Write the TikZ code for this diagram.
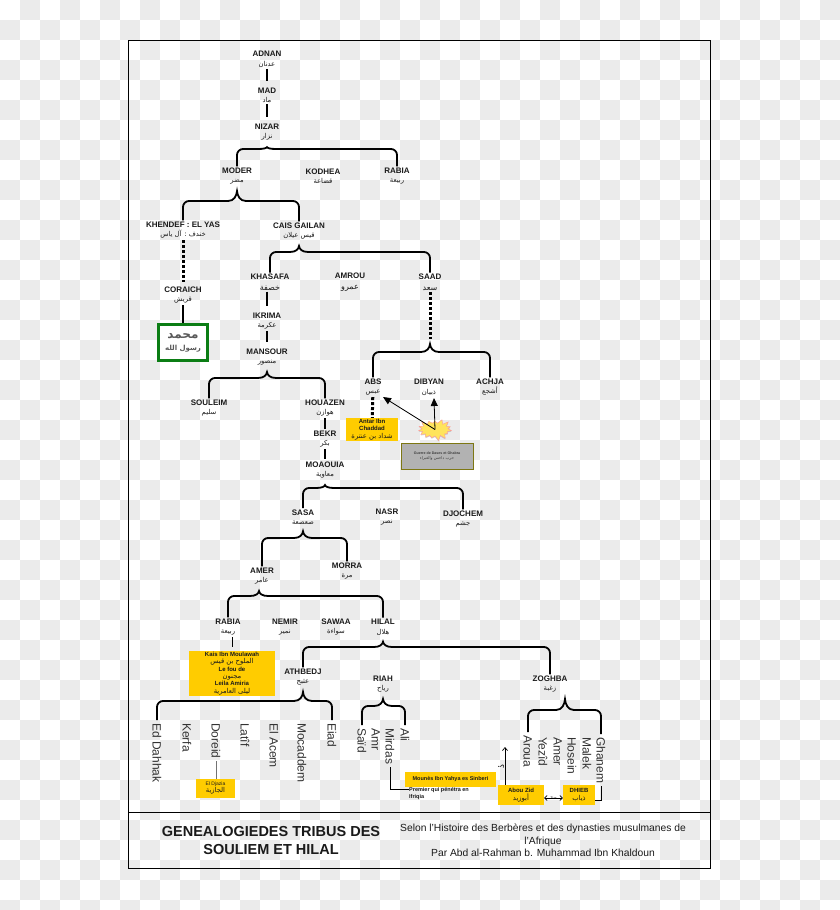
\documentclass[tikz,border=0pt]{standalone}
\usepackage{fontspec}
\setmainfont{Liberation Sans}
\newfontfamily\arabicfont[Script=Arabic]{DejaVu Sans}
\TeXXeTstate=1
\usepackage{tikz}
\usetikzlibrary{calc, positioning, arrows.meta, shapes.symbols, shadows}
\definecolor{checker}{HTML}{EBEBEB}
\definecolor{gold}{HTML}{FFCC00}
\definecolor{ink}{HTML}{1A1A1A}
\definecolor{seal}{HTML}{0B7D14}
\definecolor{blast}{HTML}{FFE45C}
\newcommand{\arab}[1]{{\fontsize{6.8}{7}\arabicfont\mdseries\beginR #1\endR}}
\newcommand{\arabl}[1]{{\fontsize{8}{9}\arabicfont\mdseries\beginR #1\endR}}
\newcommand{\arabs}[1]{{\fontsize{4}{5}\arabicfont\mdseries\beginR #1\endR}}
\newcommand{\fork}[5][0]{% tip shift, parent anchor, left anchor, right anchor, level
    \coordinate (tip) at ($(#2)+(#1,5)$);
    \coordinate (lev) at (tip |- 0,#5);
    \draw[forkline, rounded corners=6pt] (#3) |- ($(lev)+(-9,0)$);
    \draw[forkline, rounded corners=6pt] (#4) |- ($(lev)+(9,0)$);
    \draw[forkline] ($(lev)+(-9,0)$)
        .. controls ($(lev)+(-3,0)$) and ($(lev)!0.5!(tip)+(-0.4,0)$) .. (tip)
        .. controls ($(lev)!0.5!(tip)+(0.4,0)$) and ($(lev)+(3,0)$) .. ($(lev)+(9,0)$);
}
\tikzset{
    tribe/.style = {align=center, inner sep=0pt, outer sep=1.5pt, yshift=-1.2pt, text=ink, font=\fontsize{8}{9.5}\selectfont\bfseries}, % the two line names
    son/.style = {rotate=-90, anchor=west, inner sep=0pt, outer sep=3pt, text=black!80, text height=8.6pt, text depth=0pt, font=\fontsize{12}{14}\selectfont},
    goldbox/.style = {fill=gold, align=center, inner sep=0pt, text=ink, font=\fontsize{6}{7.3}\selectfont\bfseries},
    forkline/.style = {line width=1.8pt, black},
    link/.style = {line width=2.6pt, black},
    dotlink/.style = {line width=3pt, black, dash pattern=on 3pt off 2pt},
    thinlink/.style = {line width=0.8pt, black},
    bigarrow/.style = {line width=0.8pt, black, -{Triangle[length=8pt,width=7pt]}},
    barb/.style = {line width=0.7pt, black, -{Straight Barb[length=3pt,width=5pt]}}
}
\begin{document}
\begin{tikzpicture}[x=1pt,y=-1pt]
\useasboundingbox (0,0) rectangle (840,910);
% checked background
\fill[white] (0,0) rectangle (840,910);
\foreach \col in {0,...,41}
    \foreach \row in {0,...,45} {
        \pgfmathtruncatemacro{\odd}{mod(\col+\row,2)}
        \ifnum\odd=1
            \fill[checker] (20*\col,20*\row) rectangle (20*\col+20,20*\row+20);
        \fi
    }
\draw[line width=1pt] (128.5,40.5) rectangle (710.5,868.5);
\draw[line width=1pt] (128.5,812) -- (710.5,812);

% upper line
\node[tribe] (adnan) at (267,58) {ADNAN\\\arab{عدنان}};
\node[tribe] (mad) at (267,94) {MAD\\\arab{ماد}};
\node[tribe] (nizar) at (267,131) {NIZAR\\\arab{نزار}};
\node[tribe] (moder) at (237,175) {MODER\\\arab{مضر}};
\node[tribe] (kodhea) at (323,175) {KODHEA\\\arab{قضاعة}};
\node[tribe] (rabiaa) at (397,175) {RABIA\\\arab{ربيعة}};
\node[tribe] (khendef) at (183,229) {KHENDEF : EL YAS\\\arab{خندف : آل ياس}};
\node[tribe] (cais) at (299,230) {CAIS GAILAN\\\arab{قيس عيلان}};
\node[tribe] (coraich) at (183,294) {CORAICH\\\arab{قريش}};
\node[draw=seal, line width=3pt, fill=white, minimum width=49pt, minimum height=36pt, inner sep=0pt, align=center, text=black!65, font=\arabicfont\bfseries] (prophet) at (183,342.5) {{\fontsize{12}{12}\selectfont\beginR محمد\endR}\\{\fontsize{7}{9}\selectfont\beginR رسول الله\endR}};

% Cais Gailan
\node[tribe] (khasafa) at (270,281) {KHASAFA\\[1pt]\arabl{خصفة}};
\node[tribe] (amrou) at (350,281) {AMROU\\[1pt]\arabl{عمرو}};
\node[tribe] (saad) at (430,281) {SAAD\\[1pt]\arabl{سعد}};
\node[tribe] (ikrima) at (267,320) {IKRIMA\\\arab{عكرمة}};
\node[tribe] (mansour) at (267,356) {MANSOUR\\\arab{منصور}};
\node[tribe] (abs) at (373,386) {ABS\\\arab{عبس}};
\node[tribe] (dibyan) at (429,386) {DIBYAN\\\arab{ذبيان}};
\node[tribe] (achja) at (490,386) {ACHJA\\\arab{أشجع}};
\node[tribe] (souleim) at (209,407) {SOULEIM\\\arab{سليم}};
\node[tribe] (houazen) at (325,407) {HOUAZEN\\\arab{هوازن}};
\node[tribe] (bekr) at (325,438) {BEKR\\\arab{بكر}};
\node[tribe] (moaouia) at (325,469) {MOAOUIA\\\arab{معاوية}};
\node[tribe] (sasa) at (303,516) {SASA\\\arab{صعصعة}};
\node[tribe] (nasr) at (387,516) {NASR\\\arab{نصر}};
\node[tribe] (djochem) at (463,518) {DJOCHEM\\\arab{جشم}};
\node[tribe] (amer) at (262,575) {AMER\\\arab{عامر}};
\node[tribe] (morra) at (347,570) {MORRA\\\arab{مرة}};

% Amer
\node[tribe] (rabiab) at (228,626) {RABIA\\\arab{ربيعة}};
\node[tribe] (nemir) at (285,626) {NEMIR\\\arab{نمير}};
\node[tribe] (sawaa) at (336,626) {SAWAA\\\arab{سواءة}};
\node[tribe] (hilal) at (383,626) {HILAL\\\arab{هلال}};
\node[tribe] (athbedj) at (303,676) {ATHBEDJ\\\arab{عثبج}};
\node[tribe] (riah) at (383,683) {RIAH\\\arab{رياح}};
\node[tribe] (zoghba) at (550,683) {ZOGHBA\\\arab{زغبة}};

% the sons, written downwards
\node[son] (dahhak) at (157,720) {Ed Dahhak};
\node[son] (kerfa) at (187,720) {Kerfa};
\node[son] (doreid) at (216,720) {Doreid};
\node[son] (latif) at (245,720) {Latîf};
\node[son] (acem) at (274,720) {El Acem};
\node[son] (mocaddem) at (302,720) {Mocaddem};
\node[son] (eiad) at (332,720) {Eiad};
\node[son] (said) at (362,725) {Saïd};
\node[son] (amr) at (376,725) {Amr};
\node[son] (mirdas) at (390,725) {Mirdas};
\node[son] (ali) at (405,725) {Ali};
\node[son] (aroua) at (528,732) {Aroua};
\node[son] (yezid) at (543,734) {Yezîd};
\node[son] (amerb) at (558,734) {Amer};
\node[son] (hosein) at (572,734) {Hosein};
\node[son] (malek) at (587,734) {Malek};
\node[son] (ghanem) at (601,734) {Ghanem};

% yellow notes
\node[goldbox, minimum width=52pt, minimum height=23pt] (antar) at (372,429.5) {Antar Ibn\\Chaddad\\\arab{شداد بن عنترة}};
\node[goldbox, minimum width=86pt, minimum height=45pt] (kais) at (232,673.5) {Kais Ibn Moulawah\\\arab{الملوح بن قيس}\\Le fou de\\\arab{مجنون}\\Leila Amiria\\\arab{ليلى العامرية}};
\node[goldbox, minimum width=39pt, minimum height=19pt, font=\fontsize{5}{7}\selectfont] (djazia) at (215.5,788.5) {El Djazia\\\arab{الجازية}};
\node[goldbox, minimum width=91pt, minimum height=15pt, font=\fontsize{5.5}{7}\selectfont\bfseries] (mounes) at (450.5,779.5) {Mounès Ibn Yahya es Sinberi};
\node[goldbox, minimum width=46pt, minimum height=20pt] (abou) at (521,795) {Abou Zid\\\arab{أبوزيد}};
\node[goldbox, minimum width=32pt, minimum height=20pt] (dhieb) at (579,795) {DHIEB\\\arab{ذياب}};
\node[anchor=north west, align=left, inner sep=0pt, text=ink, font=\fontsize{5.5}{7}\selectfont\bfseries] (premier) at (409,787) {Premier qui pénétra en\\Ifriqia};

% war of Dahis
\node[starburst, starburst points=15, starburst point height=5pt, random starburst=3, draw=red!40, fill=blast, inner sep=0pt, minimum width=36pt, minimum height=23pt, drop shadow={shadow xshift=0pt, shadow yshift=-1pt, opacity=.35}] (burst) at (435,429.5) {};
\node[draw=olive!85!black, line width=1pt, fill=black!30, align=center, minimum width=72pt, minimum height=26pt, inner sep=0pt, text=black!75, font=\fontsize{3.6}{5.5}\selectfont\bfseries] (guerre) at (437,456) {Guerre de Dases et Ghabra\\\arabs{حرب داحس والغبراء}};
\coordinate (abstip) at (383,397);
\coordinate (dibtip) at (434,398);
\draw[bigarrow] (burst.center) -- (abstip);
\draw[bigarrow] (burst.center) -- (dibtip);

% connectors
\draw[link, shorten >=5pt] (adnan) -- (mad);
\draw[link, shorten >=5pt] (mad) -- (nizar);
\draw[dotlink, shorten >=3pt] (khendef) -- (coraich);
\draw[link] (coraich) -- (prophet);
\draw[link, shorten >=5pt] (ikrima.north |- khasafa.south) -- (ikrima);
\draw[link, shorten >=5pt] (ikrima) -- (mansour);
\draw[link] (houazen) -- (bekr);
\draw[link, shorten >=1pt] (bekr) -- (moaouia);
\draw[dotlink] (abs) -- (antar);
\coordinate (saadfork) at (430,339);
\draw[dotlink] (saad) -- (saadfork);
\draw[thinlink, shorten >=4pt] (kais.north |- rabiab.south) -- (kais);

\fork{nizar.south}{moder.north}{rabiaa.north}{149}
\fork{moder.south}{khendef.north}{cais.north}{201}
\fork{cais.south}{khasafa.north}{saad.north}{252}
\fork{saadfork}{abs.north}{achja.north}{352}
\fork{mansour.south}{souleim.north}{houazen.north}{378}
\fork{moaouia.south}{sasa.north}{djochem.north}{488}
\fork{sasa.south}{amer.north}{morra.north}{538}
\fork[-3]{amer.south}{rabiab.north}{hilal.north}{596}
\fork{hilal.south}{athbedj.north}{zoghba.north}{647}
\fork{athbedj.south}{dahhak.west}{eiad.west}{701}
\fork{riah.south}{said.west}{ali.west}{706}
\fork[15]{zoghba.south}{aroua.west}{ghanem.west}{710}

\draw[line width=1pt, black!55] (doreid.east) -- (doreid.east |- djazia.north);
\draw[thinlink] (mirdas.east) |- ([yshift=4pt]premier.west);
\draw[thinlink] (ghanem.east) |- ([yshift=-5pt]dhieb.east);
\coordinate (doubt) at (505,747);
\draw[barb] (doubt |- abou.north) -- (doubt);
\node[rotate=-90, inner sep=0pt, font=\fontsize{8}{9}\arabicfont] (mark) at (501,767) {\beginR ؟\endR};
\draw[line width=0.6pt, black, {Straight Barb[length=2.5pt,width=5pt]}-{Straight Barb[length=2.5pt,width=5pt]}] ([yshift=-3pt]abou.east) -- node[inner sep=0pt, font=\fontsize{3.5}{4}\selectfont] (tue) {Tue} ([yshift=-3pt]dhieb.west);

% title block
\node[align=center, inner sep=0pt, text=ink, font=\fontsize{14.5}{18}\selectfont\bfseries] (titre) at (271,840) {GENEALOGIEDES TRIBUS DES\\SOULIEM ET HILAL};
\node[align=center, inner sep=0pt, text=ink, font=\fontsize{10.3}{12.5}\selectfont] (source) at (543,840.5) {Selon l'Histoire des Berbères et des dynasties musulmanes de\\l'Afrique\\Par Abd al-Rahman b. Muhammad Ibn Khaldoun};
\end{tikzpicture}
\end{document}
